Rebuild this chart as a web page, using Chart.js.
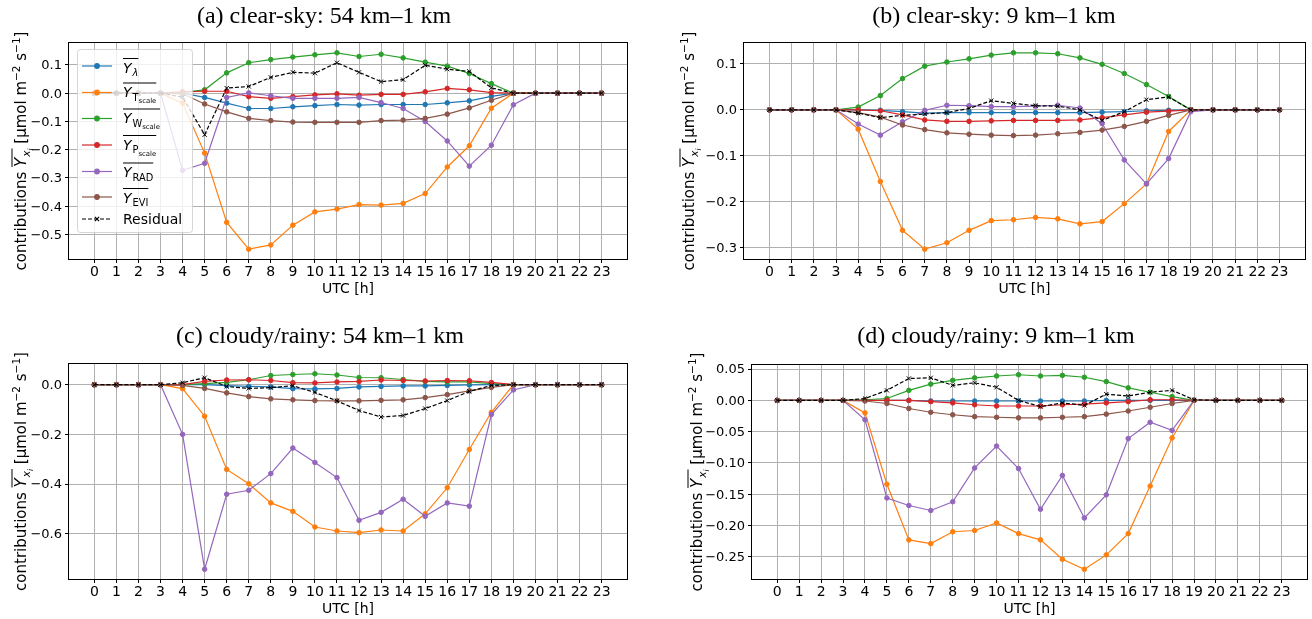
<!DOCTYPE html>
<html>
<head>
<meta charset="utf-8">
<script src="https://cdn.jsdelivr.net/npm/chart.js@4.4.1/dist/chart.umd.min.js"></script>
<style>
    html, body { margin: 0; padding: 0; background: #fff; }
    #wrap { position: relative; width: 1312px; height: 619px; overflow: hidden; }
    #wrap canvas { position: absolute; }
</style>
</head>
<body>
<div id="wrap">
    <canvas id="panelA" width="656" height="310" style="left:0;top:0"></canvas>
    <canvas id="panelB" width="656" height="310" style="left:656px;top:0"></canvas>
    <canvas id="panelC" width="656" height="309" style="left:0;top:310px"></canvas>
    <canvas id="panelD" width="656" height="309" style="left:656px;top:310px"></canvas>
</div>
<script>
// Hours of the day (UTC)
const HOURS = [0, 1, 2, 3, 4, 5, 6, 7, 8, 9, 10, 11, 12, 13, 14, 15, 16, 17, 18, 19, 20, 21, 22, 23];
const SERIES_NAMES = ['Y_lambda', 'Y_Tscale', 'Y_Wscale', 'Y_Pscale', 'Y_RAD', 'Y_EVI', 'Residual'];

// (a) clear-sky: 54 km-1 km
const A_LAMBDA = [0, 0, 0, 0, 0.000, -0.015, -0.035, -0.054, -0.054, -0.048, -0.044, -0.040, -0.042, -0.040, -0.040, -0.040, -0.034, -0.027, -0.011, 0, 0, 0, 0, 0];
const A_TSCALE = [0, 0, 0, 0, -0.035, -0.212, -0.457, -0.552, -0.537, -0.467, -0.420, -0.410, -0.394, -0.396, -0.390, -0.355, -0.261, -0.186, -0.053, 0, 0, 0, 0, 0];
const A_WSCALE = [0, 0, 0, 0, 0.003, 0.012, 0.072, 0.108, 0.119, 0.128, 0.136, 0.143, 0.130, 0.138, 0.125, 0.110, 0.096, 0.070, 0.034, 0, 0, 0, 0, 0];
const A_PSCALE = [0, 0, 0, 0, 0.005, 0.007, 0.007, -0.012, -0.018, -0.012, -0.006, -0.002, -0.007, -0.004, -0.004, 0.005, 0.017, 0.012, 0.002, 0, 0, 0, 0, 0];
const A_RAD    = [0, 0, 0, 0, -0.273, -0.248, -0.015, 0.001, -0.009, -0.018, -0.018, -0.018, -0.015, -0.033, -0.054, -0.100, -0.169, -0.258, -0.184, -0.041, 0, 0, 0, 0];
const A_EVI    = [0, 0, 0, 0, -0.002, -0.038, -0.066, -0.089, -0.097, -0.102, -0.103, -0.103, -0.103, -0.097, -0.095, -0.089, -0.074, -0.052, -0.025, 0, 0, 0, 0, 0];
const A_RESID  = [0, 0, 0, 0, -0.014, -0.147, 0.018, 0.024, 0.056, 0.074, 0.071, 0.108, 0.074, 0.041, 0.048, 0.099, 0.085, 0.077, 0.019, 0, 0, 0, 0, 0];
const A_YTICKS = [-0.5, -0.4, -0.3, -0.2, -0.1, 0.0, 0.1];

// (b) clear-sky: 9 km-1 km
const B_LAMBDA = [0, 0, 0, 0, 0, -0.001, -0.004, -0.007, -0.006, -0.006, -0.006, -0.006, -0.006, -0.006, -0.006, -0.005, -0.004, -0.002, -0.001, 0, 0, 0, 0, 0];
const B_TSCALE = [0, 0, 0, 0, -0.042, -0.156, -0.262, -0.303, -0.289, -0.262, -0.241, -0.239, -0.234, -0.237, -0.248, -0.243, -0.204, -0.161, -0.047, 0, 0, 0, 0, 0];
const B_WSCALE = [0, 0, 0, 0, 0.006, 0.031, 0.068, 0.095, 0.104, 0.111, 0.119, 0.124, 0.124, 0.122, 0.113, 0.099, 0.079, 0.055, 0.029, 0, 0, 0, 0, 0];
const B_PSCALE = [0, 0, 0, 0, 0, -0.002, -0.011, -0.022, -0.025, -0.025, -0.024, -0.023, -0.023, -0.023, -0.022, -0.017, -0.011, -0.005, -0.003, 0, 0, 0, 0, 0];
const B_RAD    = [0, 0, 0, 0, -0.031, -0.055, -0.026, -0.001, 0.010, 0.009, 0.007, 0.007, 0.008, 0.010, 0.004, -0.030, -0.109, -0.161, -0.106, -0.004, 0, 0, 0, 0];
const B_EVI    = [0, 0, 0, 0, -0.006, -0.016, -0.033, -0.043, -0.050, -0.053, -0.055, -0.056, -0.055, -0.052, -0.049, -0.044, -0.036, -0.025, -0.012, 0, 0, 0, 0, 0];
const B_RESID  = [0, 0, 0, 0, -0.007, -0.017, -0.012, -0.009, -0.006, 0.003, 0.020, 0.014, 0.009, 0.008, 0.000, -0.023, -0.004, 0.022, 0.028, 0, 0, 0, 0, 0];
const B_YTICKS = [-0.3, -0.2, -0.1, 0.0, 0.1];

// (c) cloudy/rainy: 54 km-1 km
const C_LAMBDA = [0, 0, 0, 0, 0, 0, -0.004, -0.007, -0.009, -0.016, -0.017, -0.015, -0.009, -0.007, -0.005, -0.005, -0.003, -0.001, 0, 0, 0, 0, 0, 0];
const C_TSCALE = [0, 0, 0, 0, -0.016, -0.127, -0.341, -0.399, -0.476, -0.510, -0.573, -0.589, -0.596, -0.585, -0.589, -0.520, -0.415, -0.261, -0.111, 0, 0, 0, 0, 0];
const C_WSCALE = [0, 0, 0, 0, 0, 0.004, 0.009, 0.020, 0.037, 0.041, 0.044, 0.039, 0.029, 0.028, 0.021, 0.013, 0.011, 0.011, 0.004, 0, 0, 0, 0, 0];
const C_PSCALE = [0, 0, 0, 0, 0, 0.013, 0.019, 0.020, 0.017, 0.008, 0.007, 0.011, 0.013, 0.019, 0.017, 0.015, 0.017, 0.016, 0.009, 0, 0, 0, 0, 0];
const C_RAD    = [0, 0, 0, 0, -0.200, -0.743, -0.441, -0.425, -0.358, -0.255, -0.313, -0.374, -0.546, -0.514, -0.461, -0.530, -0.476, -0.489, -0.120, -0.021, 0, 0, 0, 0];
const C_EVI    = [0, 0, 0, 0, -0.003, -0.015, -0.033, -0.048, -0.057, -0.061, -0.064, -0.065, -0.065, -0.063, -0.061, -0.052, -0.040, -0.025, -0.011, 0, 0, 0, 0, 0];
const C_RESID  = [0, 0, 0, 0, 0.008, 0.028, -0.007, -0.015, -0.012, -0.004, -0.031, -0.065, -0.104, -0.130, -0.124, -0.096, -0.064, -0.027, -0.003, 0, 0, 0, 0, 0];
const C_YTICKS = [-0.6, -0.4, -0.2, 0.0];

// (d) cloudy/rainy: 9 km-1 km
const D_LAMBDA = [0, 0, 0, 0, 0, 0, 0, -0.001, -0.001, -0.001, -0.001, -0.001, -0.001, -0.001, -0.001, 0, 0, 0, 0, 0, 0, 0, 0, 0];
const D_TSCALE = [0, 0, 0, 0, -0.020, -0.134, -0.223, -0.229, -0.210, -0.208, -0.196, -0.213, -0.223, -0.254, -0.270, -0.247, -0.213, -0.137, -0.060, 0, 0, 0, 0, 0];
const D_WSCALE = [0, 0, 0, 0, 0.001, 0.003, 0.016, 0.026, 0.032, 0.036, 0.039, 0.041, 0.039, 0.040, 0.037, 0.030, 0.020, 0.013, 0.006, 0, 0, 0, 0, 0];
const D_PSCALE = [0, 0, 0, 0, 0, 0, 0, -0.002, -0.004, -0.007, -0.009, -0.009, -0.009, -0.007, -0.006, -0.004, -0.002, 0.001, 0.001, 0, 0, 0, 0, 0];
const D_RAD    = [0, 0, 0, 0, -0.031, -0.156, -0.168, -0.176, -0.162, -0.108, -0.073, -0.109, -0.174, -0.120, -0.188, -0.151, -0.061, -0.035, -0.048, 0, 0, 0, 0, 0];
const D_EVI    = [0, 0, 0, 0, -0.001, -0.005, -0.013, -0.019, -0.023, -0.026, -0.027, -0.028, -0.028, -0.027, -0.026, -0.022, -0.017, -0.011, -0.005, 0, 0, 0, 0, 0];
const D_RESID  = [0, 0, 0, 0, 0.003, 0.016, 0.035, 0.036, 0.024, 0.028, 0.021, 0.000, -0.010, -0.004, -0.008, 0.010, 0.007, 0.013, 0.016, 0.001, 0, 0, 0, 0];
const D_YTICKS = [-0.25, -0.20, -0.15, -0.10, -0.05, 0.00, 0.05];

const COLORS = ['#1f77b4', '#ff7f0e', '#2ca02c', '#d62728', '#9467bd', '#8c564b', '#000000'];
const SANS = '"DejaVu Sans", sans-serif';

Chart.defaults.font.family = SANS;
Chart.defaults.font.size = 14;
Chart.defaults.color = '#000';

// Math-like labels: overlined italic Y with subscripts
const mathY = (sub, subItalic, subsub) => {
    const parts = [
        { t: 'Y', italic: true, bar: true, kern: 1 },
        { t: sub, size: 9.8, italic: subItalic, dy: 3.5, bar: true }
    ];
    if (subsub) parts.push({ t: subsub, size: 6.9, dy: 6, bar: true });
    return parts;
};
const LEGEND_LABELS = [
    mathY('λ', true),
    mathY('T', false, 'scale'),
    mathY('W', false, 'scale'),
    mathY('P', false, 'scale'),
    mathY('RAD', false),
    mathY('EVI', false),
    [{ t: 'Residual' }]
];
const Y_LABEL = [
    { t: 'contributions ', size: 15 },
    { t: 'Y', size: 15, italic: true, bar: true, kern: 1 },
    { t: 'x', italic: true, size: 10.5, dy: 3.5, bar: true },
    { t: 'i', italic: true, size: 7.5, dy: 6.5, bar: true },
    { t: ' [µmol m', size: 15 },
    { t: '−2', size: 10.5, dy: -6 },
    { t: ' s', size: 15 },
    { t: '−1', size: 10.5, dy: -6 },
    { t: ']', size: 15 }
];

function setFont(ctx, p) {
    ctx.font = (p.italic ? 'italic ' : '') + (p.size || 14) + 'px ' + SANS;
}

function richWidth(ctx, parts) {
    let w = 0;
    parts.forEach(p => { setFont(ctx, p); w += ctx.measureText(p.t).width + (p.kern || 0); });
    return w;
}

// Draws text pieces left to right on one baseline, with an overline over the "bar" pieces
function drawRich(ctx, parts, x, y) {
    let cx = x, barStart = null, barEnd = null;
    parts.forEach(p => {
        setFont(ctx, p);
        const w = ctx.measureText(p.t).width;
        ctx.fillText(p.t, cx, y + (p.dy || 0));
        if (p.bar) {
            if (barStart === null) barStart = cx;
            barEnd = cx + w;
        }
        cx += w + (p.kern || 0);
    });
    if (barStart !== null) ctx.fillRect(barStart, y - 14.5, barEnd - barStart, 1);
}

function drawLegend(chart) {
    const ctx = chart.ctx;
    const x0 = 77, y0 = 49.5, w = 115, h = 183;
    ctx.save();
    ctx.beginPath();
    ctx.roundRect(x0 + 0.5, y0, w, h, 3);
    ctx.fillStyle = 'rgba(255,255,255,0.8)';
    ctx.fill();
    ctx.strokeStyle = 'rgba(204,204,204,0.8)';
    ctx.lineWidth = 1;
    ctx.stroke();

    const rows = [66, 92.5, 118.5, 145, 171.5, 197, 219];
    const baseShift = [6.5, 4.5, 4.5, 4.5, 5.5, 5.5, 5];
    chart.data.datasets.forEach((ds, i) => {
        const cy = rows[i];
        ctx.strokeStyle = ds.borderColor;
        ctx.fillStyle = ds.borderColor;
        ctx.lineWidth = ds.borderWidth;
        ctx.setLineDash(ds.borderDash || []);
        ctx.beginPath();
        ctx.moveTo(82, cy);
        ctx.lineTo(112, cy);
        ctx.stroke();
        ctx.setLineDash([]);
        Chart.helpers.drawPoint(ctx, {
            pointStyle: ds.pointStyle, radius: ds.pointRadius, borderWidth: 1, rotation: 0
        }, 97, cy);
        ctx.fillStyle = '#000';
        ctx.textAlign = 'left';
        ctx.textBaseline = 'alphabetic';
        drawRich(ctx, LEGEND_LABELS[i], 123, cy + baseShift[i]);
    });
    ctx.restore();
}

// Frame, y tick labels, titles and axis labels
const panelDeco = {
    id: 'panelDeco',
    afterDraw(chart, args, opts) {
        const ctx = chart.ctx;
        const area = chart.chartArea;
        const yScale = chart.scales.y;
        ctx.save();

        ctx.strokeStyle = '#000';
        ctx.lineWidth = 1;
        ctx.strokeRect(Math.round(area.left) - 0.5, Math.round(area.top) - 0.5,
            Math.round(area.right - area.left) + 1, Math.round(area.bottom - area.top) + 1);

        ctx.fillStyle = '#000';
        ctx.textAlign = 'left';
        ctx.textBaseline = 'alphabetic';
        const lw = richWidth(ctx, Y_LABEL);
        ctx.save();
        ctx.translate(opts.yLabelX, (area.top + area.bottom) / 2);
        ctx.rotate(-Math.PI / 2);
        drawRich(ctx, Y_LABEL, -lw / 2, 0);
        ctx.restore();

        ctx.font = '13px ' + SANS;
        ctx.textAlign = 'right';
        ctx.textBaseline = 'middle';
        yScale.ticks.forEach(t => {
            const label = t.value.toFixed(opts.decimals).replace('-', '\u2212');
            ctx.fillText(label, area.left - 7, yScale.getPixelForValue(t.value) + 1);
        });

        ctx.textBaseline = 'alphabetic';
        ctx.textAlign = 'center';
        ctx.font = '24px "Liberation Serif", serif';
        ctx.fillText(opts.title, opts.titleX, opts.titleBase);

        ctx.font = '14px ' + SANS;
        ctx.fillText('UTC [h]', (area.left + area.right) / 2, area.bottom + 34);
        ctx.restore();

        if (opts.legend) drawLegend(chart);
    }
};

function paddedRange(series) {
    const all = series.flat();
    const lo = Math.min(...all), hi = Math.max(...all);
    const pad = (hi - lo) * 0.05;
    return [lo - pad, hi + pad];
}

function makePanel(id, series, yTicks, box, deco) {
    const [yMin, yMax] = paddedRange(series);
    const last = series.length - 1;
    const datasets = series.map((vals, i) => ({
        label: SERIES_NAMES[i],
        data: HOURS.map((h, k) => ({ x: h, y: vals[k] })),
        borderColor: COLORS[i],
        backgroundColor: COLORS[i],
        pointBackgroundColor: COLORS[i],
        pointBorderColor: COLORS[i],
        borderWidth: 1.2,
        borderDash: i === last ? [4, 2] : [],
        pointStyle: i === last ? 'crossRot' : 'circle',
        pointRadius: i === last ? 3 : 2.3,
        pointBorderWidth: 1,
        tension: 0,
        fill: false,
        order: last - i
    }));

    return new Chart(document.getElementById(id), {
        type: 'line',
        data: { datasets },
        options: {
            responsive: false,
            animation: false,
            events: [],
            layout: { padding: { left: 0, top: box.top, right: box.right, bottom: 0 } },
            plugins: {
                legend: { display: false },
                tooltip: { enabled: false },
                panelDeco: deco
            },
            scales: {
                x: {
                    type: 'linear',
                    min: -1.15,
                    max: 24.15,
                    bounds: 'data',
                    afterBuildTicks: s => { s.ticks = HOURS.map(v => ({ value: v })); },
                    afterFit: s => { s.height = box.xh; },
                    ticks: { autoSkip: false, maxRotation: 0, padding: 1, callback: v => String(v) },
                    grid: { color: '#b0b0b0', lineWidth: 1, tickColor: '#000', tickLength: 4 },
                    border: { display: false }
                },
                y: {
                    type: 'linear',
                    min: yMin,
                    max: yMax,
                    bounds: 'data',
                    afterBuildTicks: s => { s.ticks = yTicks.map(v => ({ value: v })); },
                    afterFit: s => { s.width = box.yw; },
                    // labels are painted by panelDeco
                    ticks: { display: false },
                    grid: { color: '#b0b0b0', lineWidth: 1, tickColor: '#000', tickLength: 4 },
                    border: { display: false }
                }
            }
        },
        plugins: [panelDeco]
    });
}

makePanel('panelA', [A_LAMBDA, A_TSCALE, A_WSCALE, A_PSCALE, A_RAD, A_EVI, A_RESID], A_YTICKS,
    { top: 43, right: 29, yw: 69, xh: 51 },
    { title: '(a) clear-sky: 54 km–1 km', titleX: 324, titleBase: 23, yLabelX: 26, decimals: 1, legend: true });

makePanel('panelB', [B_LAMBDA, B_TSCALE, B_WSCALE, B_PSCALE, B_RAD, B_EVI, B_RESID], B_YTICKS,
    { top: 43, right: 7, yw: 88, xh: 51 },
    { title: '(b) clear-sky: 9 km–1 km', titleX: 338, titleBase: 23, yLabelX: 38, decimals: 1 });

makePanel('panelC', [C_LAMBDA, C_TSCALE, C_WSCALE, C_PSCALE, C_RAD, C_EVI, C_RESID], C_YTICKS,
    { top: 54, right: 29, yw: 69, xh: 40 },
    { title: '(c) cloudy/rainy: 54 km–1 km', titleX: 320, titleBase: 33, yLabelX: 26, decimals: 1 });

makePanel('panelD', [D_LAMBDA, D_TSCALE, D_WSCALE, D_PSCALE, D_RAD, D_EVI, D_RESID], D_YTICKS,
    { top: 55, right: 3, yw: 96, xh: 40 },
    { title: '(d) cloudy/rainy: 9 km–1 km', titleX: 340, titleBase: 33, yLabelX: 46, decimals: 2 });
</script>
</body>
</html>
